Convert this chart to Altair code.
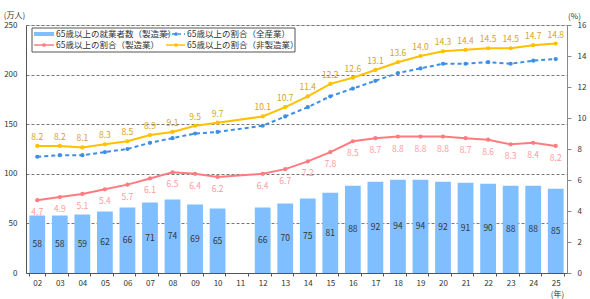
import altair as alt
import pandas as pd

years = ["02","03","04","05","06","07","08","09","10","11","12","13",
         "14","15","16","17","18","19","20","21","22","23","24","25"]
workers = [58,58,59,62,66,71,74,69,65,None,66,70,75,81,88,92,94,94,92,91,90,88,88,85]
share_mfg = [4.7,4.9,5.1,5.4,5.7,6.1,6.5,6.4,6.2,None,6.4,6.7,7.2,7.8,8.5,8.7,8.8,8.8,8.8,8.7,8.6,8.3,8.4,8.2]
share_all = [7.5,7.6,7.6,7.8,8.0,8.4,8.7,9.0,9.1,None,9.5,10.1,10.7,11.4,11.9,12.4,12.9,13.2,13.5,13.5,13.6,13.5,13.7,13.8]
share_non = [8.2,8.2,8.1,8.3,8.5,8.9,9.1,9.5,9.7,None,10.1,10.7,11.4,12.2,12.6,13.1,13.6,14.0,14.3,14.4,14.5,14.5,14.7,14.8]

names = ["65歳以上の就業者数（製造業）", "65歳以上の割合（全産業）",
         "65歳以上の割合（製造業）", "65歳以上の割合（非製造業）"]

FONT = "Noto Sans CJK JP"
BAR_C = "#80bfff"
RED_C = "#ff7b80"
ORG_C = "#ffc000"
BLU_C = "#3d8fe6"

df = pd.DataFrame({"year": years, "workers": workers, "mfg": share_mfg,
                   "all": share_all, "non": share_non})

xscale = alt.Scale(domain=years, paddingInner=0.3, paddingOuter=0.15)
xaxis = alt.Axis(title="(年)", titleX=531, titleY=17, titleAngle=0,
                 titleFontSize=8, titleFontWeight="normal", titleColor="#333",
                 titleFont=FONT, labelAngle=0, labelFontSize=8, labelFont=FONT,
                 labelColor="#333", tickBand="extent", tickSize=3,
                 tickColor="#555", domainColor="#555", labelPadding=3)

def X():
    return alt.X("year:O", scale=xscale, axis=xaxis)

lscale = alt.Scale(domain=[0, 250])
laxis = alt.Axis(values=[0, 50, 100, 150, 200, 250], title="(万人)",
                 titleX=-12, titleY=-10, titleAngle=0, titleAlign="center",
                 titleBaseline="middle", titleFontSize=8, titleFontWeight="normal",
                 titleColor="#333", titleFont=FONT, labelFontSize=8, labelFont=FONT,
                 labelColor="#333", ticks=False, labelPadding=9, grid=True,
                 gridDash=[3, 2], gridColor="#777", gridWidth=1,
                 domainColor="#555")

base = alt.Chart(df)

bars = base.transform_filter("isValid(datum.workers)").mark_bar(color=BAR_C).encode(
    x=X(),
    y=alt.Y("workers:Q", scale=lscale, axis=laxis),
)

bar_text = base.transform_filter("isValid(datum.workers)").transform_calculate(
    half="datum.workers / 2").mark_text(fontSize=8.5, font=FONT, color="#333").encode(
    x=X(),
    y=alt.Y("half:Q", scale=lscale, axis=laxis),
    text=alt.Text("workers:Q"),
)

left = alt.layer(bars, bar_text)

yr = alt.Scale(domain=[0, 16])
yaxis = alt.Axis(orient="right", values=list(range(0, 17, 2)), title="(%)", titleX=7, titleY=-9,
                 titleAngle=0, titleAlign="center", titleBaseline="middle", titleFontSize=8,
                 titleFontWeight="normal", titleColor="#333", titleFont=FONT,
                 labelFontSize=8, labelFont=FONT, labelColor="#333", grid=False,
                 tickSize=4, tickColor="#888", domainColor="#888", labelPadding=6)

def line(field, color, dash=None):
    kw = dict(color=color, strokeWidth=2,
              point=alt.OverlayMarkDef(filled=True, size=18, color=color))
    if dash:
        kw["strokeDash"] = dash
    return base.transform_filter(f"isValid(datum['{field}'])").mark_line(**kw).encode(
        x=X(),
        y=alt.Y(f"{field}:Q", scale=yr, axis=yaxis),
    )

def labels(field, color, dy):
    return base.transform_filter(f"isValid(datum['{field}'])").mark_text(
        fontSize=8.5, font=FONT, color=color, dy=dy).encode(
        x=X(),
        y=alt.Y(f"{field}:Q", scale=yr, axis=yaxis),
        text=alt.Text(f"{field}:Q", format=".1f"),
    )

right = alt.layer(
    line("mfg", RED_C),
    line("all", BLU_C, dash=[4, 3]),
    line("non", ORG_C),
    labels("mfg", "#ff9a9e", 12),
    labels("non", "#d4a31c", -9),
)

one = alt.Data(values=[{}])
lg = [
    alt.Chart(one).mark_rect(fill="white", stroke="#555", strokeWidth=1).encode(
        x=alt.value(6), x2=alt.value(269), y=alt.value(3), y2=alt.value(27)),
    alt.Chart(one).mark_rect(color=BAR_C).encode(
        x=alt.value(8), x2=alt.value(28), y=alt.value(7), y2=alt.value(11)),
    alt.Chart(one).mark_rule(color=RED_C, strokeWidth=1.5).encode(
        x=alt.value(8), x2=alt.value(28), y=alt.value(20)),
    alt.Chart(one).mark_point(filled=True, size=14, color=RED_C, opacity=1).encode(
        x=alt.value(18), y=alt.value(20)),
    alt.Chart(one).mark_rule(color=BLU_C, strokeWidth=1.5, strokeDash=[3, 3]).encode(
        x=alt.value(140), x2=alt.value(159), y=alt.value(9)),
    alt.Chart(one).mark_point(filled=True, size=14, color=BLU_C, opacity=1).encode(
        x=alt.value(150), y=alt.value(9)),
    alt.Chart(one).mark_rule(color=ORG_C, strokeWidth=1.5).encode(
        x=alt.value(140), x2=alt.value(159), y=alt.value(20)),
    alt.Chart(one).mark_point(filled=True, size=14, color=ORG_C, opacity=1).encode(
        x=alt.value(150), y=alt.value(20)),
]
for (tx, ty, name) in [(30, 9, names[0]), (161, 9, names[1]), (30, 20, names[2]), (161, 20, names[3])]:
    lg.append(alt.Chart(one).mark_text(align="left", baseline="middle", fontSize=8.5,
                                       font=FONT, color="#333", text=name).encode(
        x=alt.value(tx), y=alt.value(ty)))

legend = alt.layer(*lg)

chart = alt.layer(left, right, legend).resolve_scale(y="independent").properties(
    width=541, height=248,
    autosize=alt.AutoSizeParams(type="none"),
    padding={"left": 26, "top": 25, "right": 23, "bottom": 26},
).configure_view(stroke=None).configure(background="white")

chart.save("out.html", embed_options={"renderer": "svg", "actions": False})
